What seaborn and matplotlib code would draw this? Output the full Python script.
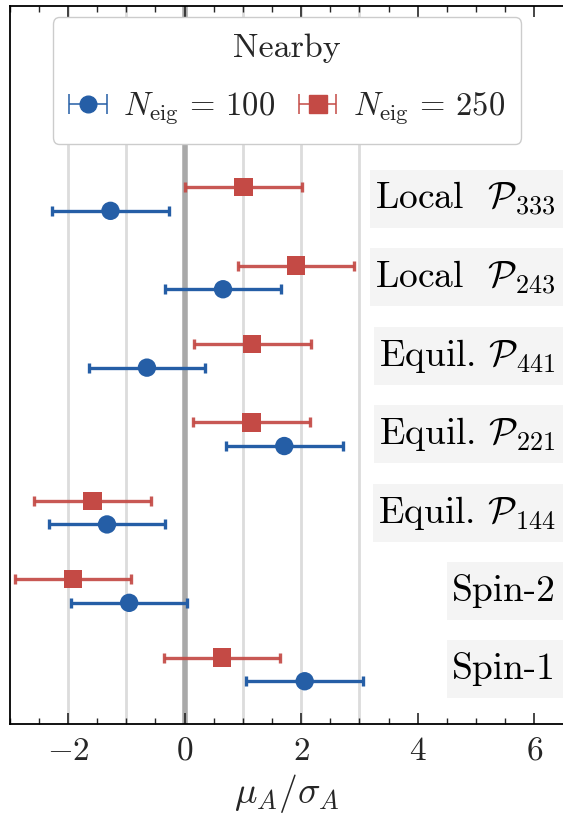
import numpy as np
import pandas as pd
import matplotlib
matplotlib.use("Agg")
import matplotlib.pyplot as plt
import seaborn as sns
from matplotlib.patches import Rectangle
from matplotlib.ticker import MultipleLocator, FixedLocator
from matplotlib.container import ErrorbarContainer
from matplotlib.legend_handler import HandlerErrorbar

# ---------------- data ----------------
categories = [r"Local  $\mathcal{P}_{333}$", r"Local  $\mathcal{P}_{243}$",
              r"Equil. $\mathcal{P}_{441}$", r"Equil. $\mathcal{P}_{221}$",
              r"Equil. $\mathcal{P}_{144}$", "Spin-2", "Spin-1"]
mu_100 = [-1.27, 0.66, -0.645, 1.71, -1.33, -0.95, 2.06]
err_100 = [1.0, 1.0, 1.0, 1.0, 1.0, 1.0, 1.0]
mu_250 = [1.01, 1.91, 1.16, 1.15, -1.58, -1.91, 0.64]
err_250 = [1.0, 1.0, 1.0, 1.0, 1.0, 1.0, 1.0]
series_labels = [r"$N_{\rm eig}\,=\,100$", r"$N_{\rm eig}\,=\,250$"]
legend_title = "Nearby"
xlabel = r"$\mu_A/\sigma_A$"
xticks = [-2, 0, 2, 4, 6]

# ---------------- style ----------------
sns.set_theme(style="ticks")
plt.rcParams["font.family"] = ["cmr10", "DejaVu Serif"]
plt.rcParams["mathtext.fontset"] = "cm"
plt.rcParams["axes.formatter.use_mathtext"] = True
plt.rcParams["axes.unicode_minus"] = True

blue = "#255ea6"
red = "#c44a45"

n = len(categories)
ypos = np.arange(n)[::-1].astype(float)
off = 0.151

df = pd.DataFrame({
    "mu": mu_100 + mu_250,
    "err": err_100 + err_250,
    "y": list(ypos - off) + list(ypos + off),
    "series": [series_labels[0]] * n + [series_labels[1]] * n,
})

W, H = 563, 814
fig = plt.figure(figsize=(W / 100, H / 100), dpi=100)
ax_left, ax_right = 9.6, 563.6
ax_top, ax_bot = 6.0, 724.0
ax = fig.add_axes([ax_left / W, 1 - ax_bot / H, (ax_right - ax_left) / W,
                   (ax_bot - ax_top) / H])

# reference lines
for xv in [-2, -1, 1, 2, 3]:
    ax.axvline(xv, color="#dcdcdc", lw=2.0, zorder=0)
ax.axvline(0, color="#a9a9a9", lw=4.0, zorder=0)

# error bars
for lab, col, a in zip(series_labels, [blue, red], [1.0, 0.92]):
    sub = df[df["series"] == lab]
    ax.errorbar(sub["mu"], sub["y"], xerr=sub["err"], fmt="none",
                ecolor=col, elinewidth=2.4, capsize=3.3, capthick=2.4,
                alpha=a, zorder=2)

# markers
sns.scatterplot(data=df, x="mu", y="y", hue="series", style="series",
                palette={series_labels[0]: blue, series_labels[1]: red},
                markers={series_labels[0]: "o", series_labels[1]: "s"},
                s=175, linewidth=0, legend=False, ax=ax, zorder=3)

# legend handles
handles = []
for lab, col, mk, ms in zip(series_labels, [blue, red], ["o", "s"], [12.0, 13.0]):
    h = ax.errorbar([np.nan], [np.nan], xerr=[np.nan], fmt=mk, color=col,
                    ecolor=col, ms=ms, elinewidth=1.1, capsize=7.5,
                    capthick=1.1, label=lab)
    handles.append(h)

leg = fig.legend(handles=handles, labels=series_labels, title=legend_title,
                 loc="upper center", bbox_to_anchor=(287 / W, 1 - 17.3 / H),
                 ncol=2, fontsize=23.5, title_fontsize=24.5, frameon=True,
                 framealpha=1.0, edgecolor="#cccccc", fancybox=True,
                 handlelength=1.15, handletextpad=0.5, columnspacing=0.72,
                 borderpad=0.5, labelspacing=0.85, borderaxespad=0,
                 handler_map={ErrorbarContainer: HandlerErrorbar(xerr_size=0.57)})
leg.set_zorder(10)

ax.set_xlim(-3, 6.5)
ax.set_ylim(-(ax_bot - 669.4) / 78.4, (669.4 - ax_top) / 78.4)
ax.set_yticks([])
ax.set_ylabel("")
ax.set_xlabel(xlabel, fontsize=27, labelpad=5)
ax.xaxis.set_major_locator(FixedLocator(xticks))
ax.xaxis.set_minor_locator(MultipleLocator(0.5))
ax.tick_params(axis="x", which="both", direction="in", top=True, bottom=True)
ax.tick_params(axis="x", which="major", length=8, width=1.2, labelsize=24, pad=9)
ax.tick_params(axis="x", which="minor", length=4, width=1.0)
for sp in ax.spines.values():
    sp.set_linewidth(1.3)
    sp.set_color("black")
ax.spines["right"].set_visible(False)

# category labels
texts = []
x_text = (556 - 184.5) / 58.3
for yc, cat in zip(ypos, categories):
    t = ax.text(x_text, yc, cat, ha="right", va="center", fontsize=27,
                color="black", zorder=6)
    texts.append(t)

fig.canvas.draw()
renderer = fig.canvas.get_renderer()
inv = fig.transFigure.inverted()
for t, yc in zip(texts, ypos):
    bb = t.get_window_extent(renderer)
    ypix = ax.transData.transform((0, yc))[1]
    x0 = bb.x0 - 5.5
    (fx0, fy0) = inv.transform((x0, ypix - 29))
    (fx1, fy1) = inv.transform((W + 20, ypix + 29))
    rect = Rectangle((fx0, fy0), fx1 - fx0, fy1 - fy0, transform=fig.transFigure,
                     facecolor="#f4f4f4", edgecolor="none", zorder=5, clip_on=False)
    ax.add_patch(rect)

fig.savefig("out.png", dpi=100)
